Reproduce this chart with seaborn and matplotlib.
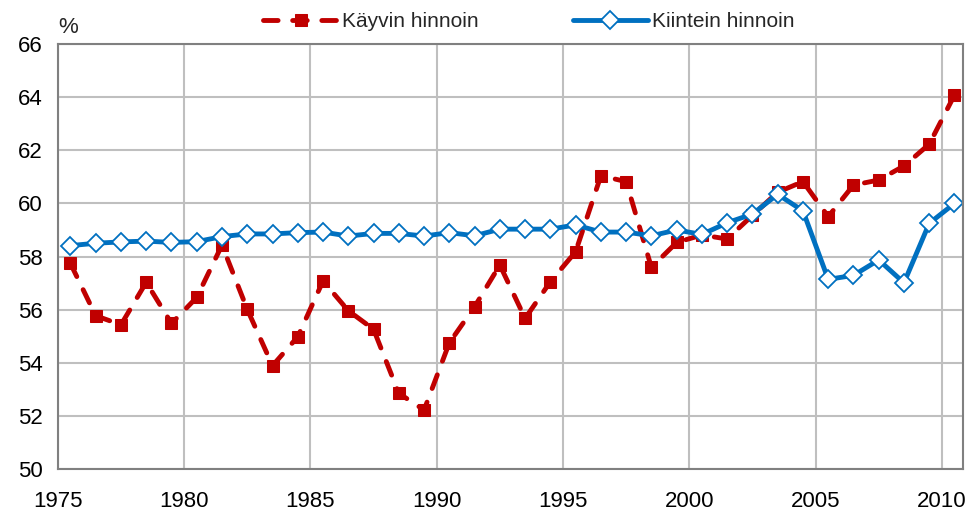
import pandas as pd
import matplotlib.pyplot as plt
import seaborn as sns

years = list(range(1975, 2011))

kayvin = [57.74, 55.77, 55.43, 57.03, 55.48, 56.46, 58.43, 56.01, 53.89, 54.98,
          57.08, 55.96, 55.26, 52.85, 52.22, 54.75, 56.11, 57.68, 55.67, 57.05,
          58.18, 61.04, 60.82, 57.59, 58.53, 58.81, 58.66, 59.55, 60.42, 60.82,
          59.50, 60.69, 60.88, 61.41, 62.23, 64.08]

kiintein = [58.41, 58.50, 58.55, 58.58, 58.53, 58.56, 58.75, 58.85, 58.85, 58.90,
            58.92, 58.77, 58.87, 58.87, 58.77, 58.90, 58.78, 59.03, 59.03, 59.03,
            59.19, 58.92, 58.92, 58.78, 59.00, 58.83, 59.27, 59.60, 60.34, 59.72,
            57.14, 57.29, 57.87, 57.01, 59.25, 60.00]

xticks = [1975, 1980, 1985, 1990, 1995, 2000, 2005, 2010]
yticks = [50, 52, 54, 56, 58, 60, 62, 64, 66]

df = pd.DataFrame({"vuosi": years, "Käyvin hinnoin": kayvin, "Kiintein hinnoin": kiintein})
df["x"] = df["vuosi"] + 0.5  # points sit in the middle of each year

sns.set_style("white")
plt.rcParams["font.family"] = ["Liberation Sans", "DejaVu Sans"]

fig = plt.figure(figsize=(9.8, 5.21), dpi=100)
ax = fig.add_axes([0.059, 0.0998, 0.924, 0.8157])

red = "#C00000"
blue = "#0070C0"

sns.lineplot(data=df, x="x", y="Käyvin hinnoin", ax=ax, color=red, linewidth=3.5,
             linestyle=(0, (3, 3)), dash_capstyle="round", marker="s", markersize=9,
             markerfacecolor=red, markeredgecolor=red, label="Käyvin hinnoin")
sns.lineplot(data=df, x="x", y="Kiintein hinnoin", ax=ax, color=blue, linewidth=3.5,
             marker="D", markersize=9.5, markerfacecolor="white",
             markeredgecolor=blue, markeredgewidth=1.3, label="Kiintein hinnoin")

ax.set_xlim(1975, 2010.85)
ax.set_ylim(50, 66)
ax.set_xticks(xticks)
ax.set_yticks(yticks)
ax.set_xlabel("")
ax.set_ylabel("")
ax.grid(True, color="#BFBFBF", linewidth=1.5)
ax.set_axisbelow(True)
for s in ax.spines.values():
    s.set_color("#808080")
    s.set_linewidth(1.5)
ax.tick_params(axis="both", direction="out", length=5, color="#808080", width=1.3,
               labelsize=16, labelcolor="black")
ax.tick_params(axis="x", pad=11)
ax.tick_params(axis="y", pad=6)

ax.text(0.0, 1.015, "%", transform=ax.transAxes, fontsize=16, ha="left", va="bottom")

ax.legend(loc="lower center", bbox_to_anchor=(0.52, 1.01), ncol=2, frameon=False,
          fontsize=15, handlelength=3.6, columnspacing=4.5, handletextpad=0.2,
          borderaxespad=0)

plt.savefig("out.png", dpi=100)
